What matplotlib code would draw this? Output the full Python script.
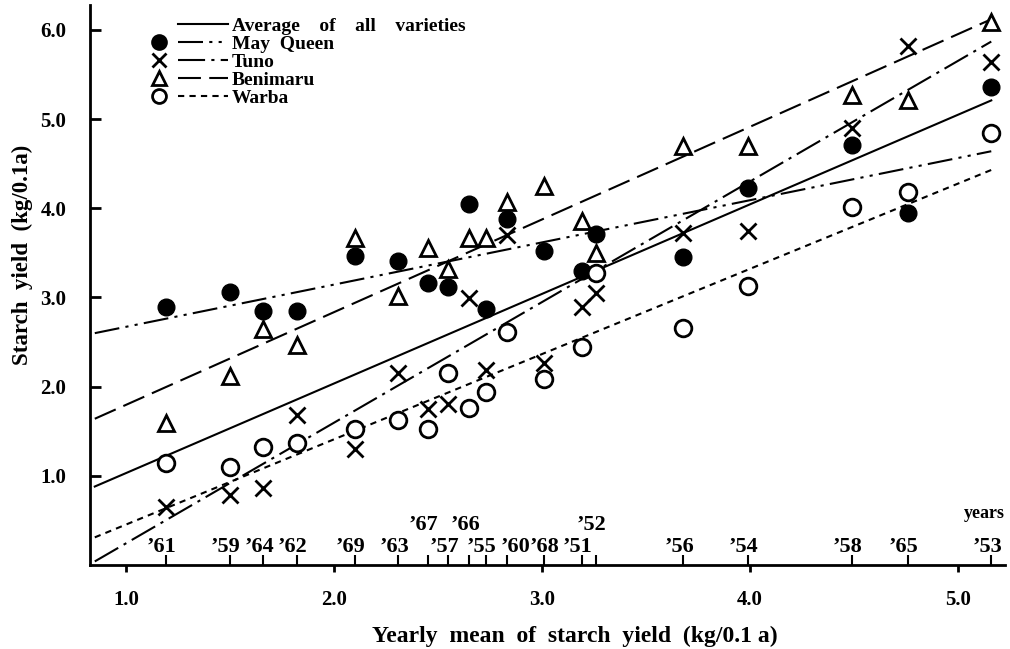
import matplotlib.pyplot as plt
from matplotlib.lines import Line2D
from matplotlib.legend_handler import HandlerBase

plt.rcParams['font.family'] = 'Liberation Serif'
plt.rcParams['font.weight'] = 'bold'
plt.rcParams['axes.labelweight'] = 'bold'

# years ordered by the yearly mean of all varieties
years = ['’61', '’59', '’64', '’62', '’69', '’63', '’67', '’57', '’66', '’55',
         '’60', '’68', '’51', '’52', '’56', '’54', '’58', '’65', '’53']
year_mean = [1.19, 1.50, 1.66, 1.82, 2.10, 2.31, 2.45, 2.55, 2.65, 2.73,
             2.83, 3.01, 3.19, 3.26, 3.68, 3.99, 4.49, 4.76, 5.16]
raised = ['’67', '’66', '’52']

may_queen = [2.89, 3.06, 2.85, 2.85, 3.46, 3.41, 3.16, 3.12, 4.05, 2.87,
             3.88, 3.52, 3.30, 3.71, 3.45, 4.23, 4.71, 3.95, 5.36]
tuno = [0.65, 0.78, 0.86, 1.68, 1.30, 2.15, 1.75, 1.81, 2.99, 2.19,
        3.70, 2.26, 2.89, 3.05, 3.72, 3.74, 4.90, 5.82, 5.64]
benimaru = [1.59, 2.12, 2.65, 2.47, 3.67, 3.02, 3.55, 3.32, 3.67, 3.67,
            4.07, 4.25, 3.86, 3.50, 4.70, 4.70, 5.27, 5.21, 6.09]
warba = [1.14, 1.10, 1.32, 1.37, 1.52, 1.63, 1.52, 2.15, 1.76, 1.94,
         2.61, 2.09, 2.44, 3.27, 2.66, 3.13, 4.01, 4.18, 4.84]

# regression line end points
line_x = [0.85, 5.16]
fit_avg = [0.88, 5.21]
fit_may_queen = [2.60, 4.64]
fit_tuno = [0.04, 5.87]
fit_benimaru = [1.64, 6.12]
fit_warba = [0.31, 4.43]

styles = {
    'avg': '-',
    'mq': (0, (12, 3, 1.5, 3, 1.5, 3)),
    'tuno': (0, (13, 3, 1.5, 3)),
    'beni': (0, (11, 4)),
    'warba': (0, (3, 2.5)),
}

# nudges for crowded year labels
label_shift = {'’60': 0.06, '’68': 0.02}


class Key:
    def __init__(self, marker, ls, fill):
        self.marker, self.ls, self.fill = marker, ls, fill


class MarkLine(HandlerBase):
    def create_artists(self, legend, h, xd, yd, w, ht, fs, trans):
        y = ht / 2 - yd
        arts = [Line2D([-xd + 0.36 * w, -xd + w], [y, y], color='k', lw=1.5, linestyle=h.ls)]
        if h.marker:
            arts.append(Line2D([-xd + 0.12 * w], [y], marker=h.marker, ms=10, mew=2,
                               color='k', mfc=h.fill, linestyle='none'))
        for a in arts:
            a.set_transform(trans)
        return arts


fig = plt.figure(figsize=(10.1, 6.49), dpi=100)
ax = fig.add_axes([90 / 1010, 1 - 565 / 649, 915 / 1010, 560 / 649])

ax.plot(line_x, fit_avg, color='k', lw=1.5, linestyle=styles['avg'])
ax.plot(line_x, fit_may_queen, color='k', lw=1.5, linestyle=styles['mq'])
ax.plot(line_x, fit_tuno, color='k', lw=1.5, linestyle=styles['tuno'])
ax.plot(line_x, fit_benimaru, color='k', lw=1.5, linestyle=styles['beni'])
ax.plot(line_x, fit_warba, color='k', lw=1.5, linestyle=styles['warba'])

ax.plot(year_mean, may_queen, 'o', color='k', ms=12, linestyle='none')
ax.plot(year_mean, tuno, 'x', color='k', ms=11, mew=2, linestyle='none')
ax.plot(year_mean, benimaru, '^', color='k', mfc='white', ms=11, mew=2, linestyle='none')
ax.plot(year_mean, warba, 'o', color='k', mfc='white', ms=12, mew=2, linestyle='none')

ax.set_xlim(0.827, 5.226)
ax.set_ylim(0, 6.28)
for s in ['top', 'right']:
    ax.spines[s].set_visible(False)
for s in ['left', 'bottom']:
    ax.spines[s].set_linewidth(2)

ax.set_yticks([1, 2, 3, 4, 5, 6])
ax.set_yticklabels(['1.0', '2.0', '3.0', '4.0', '5.0', '6.0'])
ax.tick_params(axis='y', direction='in', length=8, width=2, pad=17, labelsize=15)
ax.set_xticks([1, 2, 3, 4, 5])
ax.set_xticklabels(['1.0', '2.0', '3.0', '4.0', '5.0'])
ax.tick_params(axis='x', direction='out', length=5, width=2, pad=13, labelsize=15)
ax.set_xticks(year_mean, minor=True)
ax.tick_params(axis='x', which='minor', direction='in', length=7, width=1.5)

tr = ax.get_xaxis_transform()
for x, lab in zip(year_mean, years):
    yy = 0.071 if lab in raised else 0.032
    ax.text(x - 0.02 + label_shift.get(lab, 0), yy, lab, transform=tr,
            ha='center', va='center', fontsize=16)
ax.text(5.225, 0.092, 'years', transform=tr, ha='right', va='center', fontsize=13)

ax.set_ylabel('Starch  yield  (kg/0.1a)', fontsize=16.5)
ax.yaxis.set_label_coords(-0.062, 0.554)
ax.set_xlabel('Yearly  mean  of  starch  yield  (kg/0.1 a)', fontsize=17)
ax.xaxis.set_label_coords(0.53, -0.108)

keys = [Key(None, styles['avg'], 'k'), Key('o', styles['mq'], 'k'),
        Key('x', styles['tuno'], 'k'), Key('^', styles['beni'], 'white'),
        Key('o', styles['warba'], 'white')]
labels = ['Average    of    all    varieties', 'May  Queen', 'Tuno', 'Benimaru', 'Warba']
ax.legend(keys, labels, handler_map={Key: MarkLine()}, loc='upper left',
          bbox_to_anchor=(150 / 1010, 1 - 17 / 649), bbox_transform=fig.transFigure,
          frameon=False, borderpad=0, borderaxespad=0, handlelength=4.0,
          handletextpad=0.2, labelspacing=0.02, fontsize=14)

fig.savefig('out.png', dpi=100)
